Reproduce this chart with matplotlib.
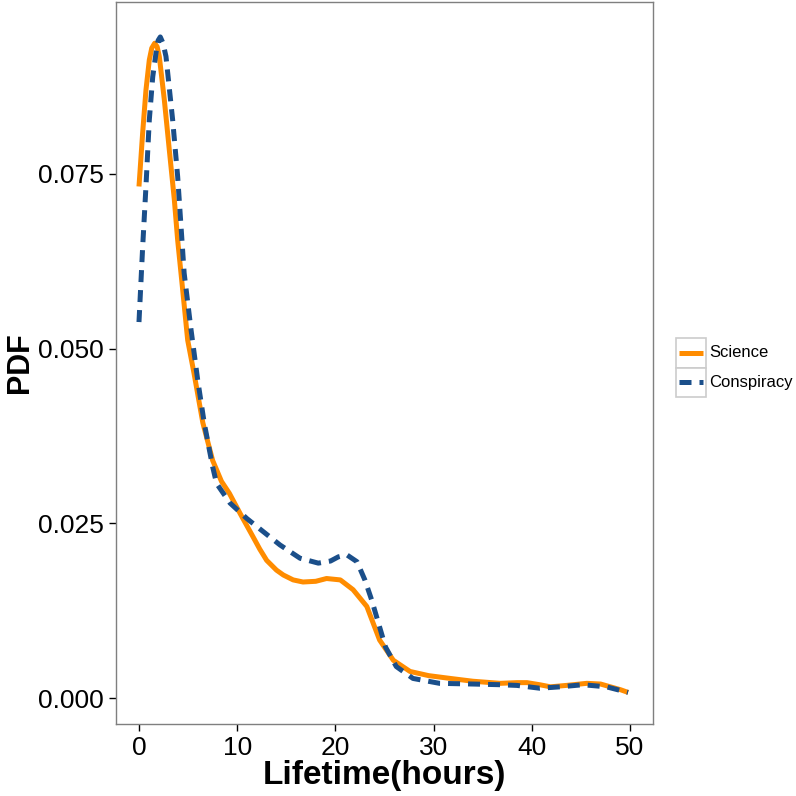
import matplotlib
matplotlib.use("Agg")
import matplotlib.pyplot as plt
from matplotlib.patches import Rectangle
from matplotlib.lines import Line2D

plt.rcParams['font.family'] = ['Liberation Sans', 'DejaVu Sans']

# ---- data ----
sci_x = [0, 0.37, 0.71, 1.05, 1.3, 1.6, 1.85, 2.07, 2.58, 3.09, 3.6, 3.94, 4.45, 4.96,
         5.6, 6.5, 7.5, 8.4, 9.2, 10.3, 11.6, 12.3, 13.0, 14.0, 14.7, 15.7, 16.7, 18.0,
         19.1, 20.5, 21.8, 23.2, 24.5, 25.9, 27.6, 29.5, 31.7, 34.0, 36.8, 38.5,
         39.5, 40.8, 41.9, 43.5, 45.6, 47.0, 48.0, 49.0, 49.8]
sci_y = [0.0732, 0.0808, 0.0870, 0.0913, 0.0930, 0.0937, 0.0932, 0.0918, 0.0856,
         0.0784, 0.0713, 0.0655, 0.0584, 0.0512, 0.0465, 0.0394, 0.0340, 0.0310,
         0.0293, 0.0264, 0.0231, 0.0213, 0.0197, 0.0183, 0.0176, 0.0169, 0.0166,
         0.0167, 0.0171, 0.0169, 0.0155, 0.0131, 0.0083, 0.0054, 0.0038, 0.0032,
         0.0028, 0.0024, 0.0021, 0.0022, 0.0022, 0.0019, 0.0016, 0.0018, 0.0021,
         0.0020, 0.0016, 0.0012, 0.0008]

con_x = [0, 0.37, 0.71, 1.05, 1.4, 1.8, 1.95, 2.17, 2.45, 2.75, 3.43, 3.94, 4.6, 5.3,
         5.98, 6.65, 7.5, 7.9, 9.27, 10.97, 12.66, 14.36, 16.4, 18.26, 19.5, 20.3,
         21.15, 22.2, 23.0, 23.7, 24.2, 25.1, 26.2, 27.9, 30.6, 34.0, 36.8, 38.5,
         40.8, 42.9, 45.2, 47.6, 49.8]
con_y = [0.0538, 0.0644, 0.0732, 0.0827, 0.0889, 0.0930, 0.0941, 0.0946, 0.0937,
         0.0918, 0.0827, 0.0746, 0.0608, 0.0527, 0.0455, 0.0393, 0.0331, 0.0307,
         0.0279, 0.0257, 0.0238, 0.0219, 0.0200, 0.0193, 0.0196, 0.0202, 0.0205,
         0.0195, 0.0169, 0.0140, 0.0116, 0.0073, 0.0045, 0.0028, 0.0021, 0.0020,
         0.0019, 0.0018, 0.0014, 0.0016, 0.0019, 0.0016, 0.0008]

x_ticks = [0, 10, 20, 30, 40, 50]
y_ticks = [0.000, 0.025, 0.050, 0.075]
y_tick_labels = ["0.000", "0.025", "0.050", "0.075"]
series_names = ["Science", "Conspiracy"]

orange = "#FF8C00"
blue = "#1B4F8A"

fig = plt.figure(figsize=(7.96, 7.96), dpi=100)
W = H = 796
ax = fig.add_axes([116 / W, 1 - 724 / H, (653 - 116) / W, (724 - 2) / H])

ax.plot(sci_x, sci_y, color=orange, lw=3.6, solid_capstyle='butt', zorder=3)
ax.plot(con_x, con_y, color=blue, lw=3.6, linestyle=(0, (2.4, 1.6)),
        dash_capstyle='butt', zorder=4)

ax.set_xlim(-2.34, 52.34)
ax.set_ylim(-0.00372, 0.0996)
ax.set_xticks(x_ticks)
ax.set_xticklabels([str(t) for t in x_ticks])
ax.set_yticks(y_ticks)
ax.set_yticklabels(y_tick_labels)
ax.tick_params(axis='both', labelsize=19, length=5, width=1.0, color='black',
               labelcolor='black')
ax.tick_params(axis='x', pad=3.5)
ax.tick_params(axis='y', pad=4)
for s in ax.spines.values():
    s.set_color('#7F7F7F')
    s.set_linewidth(1.0)

ax.set_xlabel("Lifetime(hours)", fontsize=24, fontweight='bold', labelpad=0)
ax.set_ylabel("PDF", fontsize=22, fontweight='bold', labelpad=2)

# ---- legend (ggplot style keys) ----
lax = fig.add_axes([676 / W, 1 - 397 / H, 30 / W, 59 / H])
lax.set_xlim(0, 1)
lax.set_ylim(0, 2)
lax.axis('off')
styles = [dict(color=orange, lw=3.6, solid_capstyle='butt'),
          dict(color=blue, lw=3.6, linestyle=(0, (2.4, 1.6)), dash_capstyle='butt')]
for i, (name, st) in enumerate(zip(series_names, styles)):
    yb = 1 - i
    lax.add_patch(Rectangle((0, yb), 1, 1, facecolor='white', edgecolor='#CCCCCC',
                            lw=1.2, clip_on=False))
    lax.add_line(Line2D([0.1, 0.9], [yb + 0.5, yb + 0.5], **st))
    lax.text(1.12, yb + 0.5, name, fontsize=12, va='center', ha='left',
             transform=lax.transData, clip_on=False)

fig.savefig("out.png", dpi=100, facecolor='white')
